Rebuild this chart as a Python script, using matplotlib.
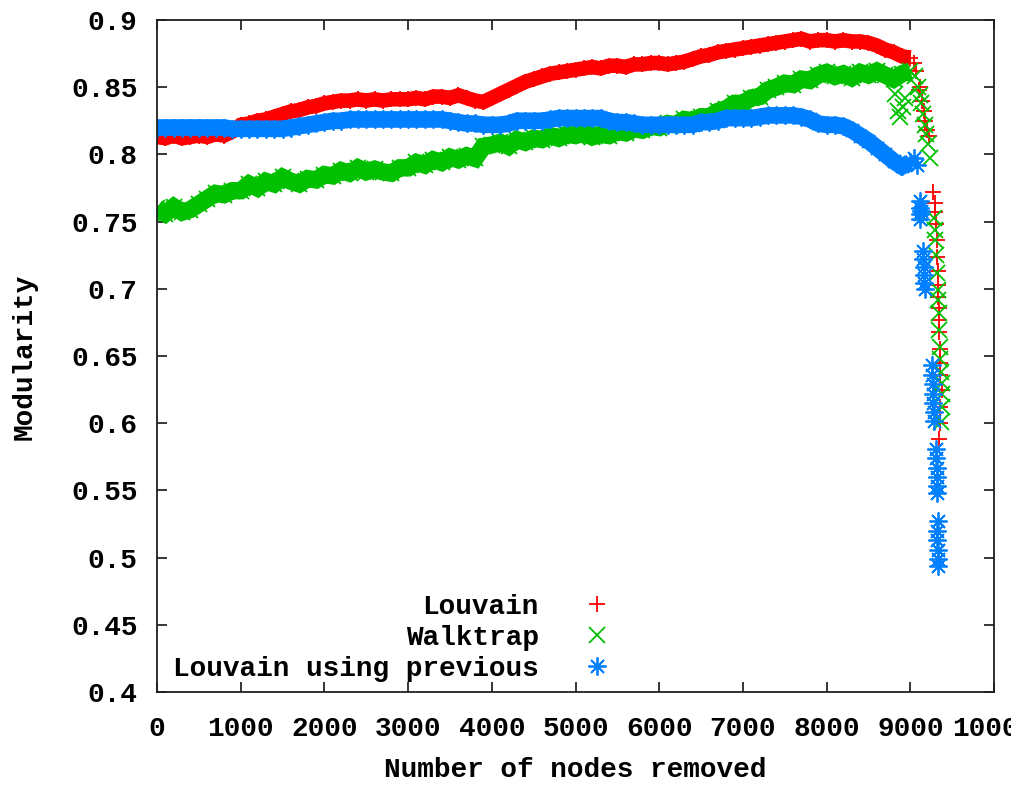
import matplotlib
matplotlib.use("Agg")
import matplotlib.pyplot as plt
from matplotlib.ticker import FormatStrFormatter

# Number of removed nodes for the sampled run (every 100 nodes up to 9000)
nodes_removed = list(range(0, 9001, 100))

louvain = [
    0.813, 0.812, 0.814, 0.812, 0.813, 0.814, 0.813, 0.815, 0.814, 0.817,
    0.822, 0.823, 0.825, 0.826, 0.828, 0.830, 0.832, 0.833, 0.835, 0.836,
    0.838, 0.839, 0.840, 0.840, 0.841, 0.840, 0.841, 0.840, 0.841, 0.841,
    0.841, 0.842, 0.841, 0.843, 0.843, 0.842, 0.844, 0.842, 0.840, 0.839,
    0.842, 0.845, 0.848, 0.851, 0.854, 0.856, 0.858, 0.860, 0.861, 0.862,
    0.863, 0.864, 0.865, 0.864, 0.866, 0.866, 0.865, 0.867, 0.867, 0.868,
    0.868, 0.867, 0.868, 0.869, 0.871, 0.873, 0.874, 0.876, 0.877, 0.878,
    0.879, 0.880, 0.881, 0.882, 0.883, 0.884, 0.885, 0.886, 0.884, 0.885,
    0.885, 0.884, 0.885, 0.884, 0.884, 0.883, 0.881, 0.878, 0.876, 0.873,
    0.872,
]

walktrap = [
    0.760, 0.756, 0.761, 0.757, 0.759, 0.763, 0.767, 0.771, 0.770, 0.773,
    0.773, 0.778, 0.775, 0.780, 0.778, 0.783, 0.780, 0.778, 0.782, 0.781,
    0.785, 0.784, 0.788, 0.786, 0.790, 0.787, 0.789, 0.787, 0.786, 0.790,
    0.790, 0.794, 0.792, 0.796, 0.794, 0.798, 0.796, 0.799, 0.797, 0.806,
    0.807, 0.809, 0.806, 0.811, 0.809, 0.812, 0.811, 0.814, 0.812, 0.815,
    0.814, 0.816, 0.813, 0.815, 0.814, 0.817, 0.816, 0.819, 0.818, 0.821,
    0.820, 0.823, 0.822, 0.826, 0.825, 0.828, 0.828, 0.832, 0.834, 0.838,
    0.838, 0.842, 0.843, 0.848, 0.850, 0.853, 0.852, 0.856, 0.855, 0.859,
    0.861, 0.858, 0.860, 0.857, 0.861, 0.859, 0.862, 0.859, 0.856, 0.860,
    0.862,
]

louvain_prev = [
    0.820, 0.820, 0.820, 0.820, 0.820, 0.820, 0.820, 0.820, 0.820, 0.819,
    0.819, 0.819, 0.819, 0.819, 0.819, 0.819, 0.820, 0.821, 0.822, 0.823,
    0.824, 0.825, 0.825, 0.826, 0.826, 0.826, 0.826, 0.826, 0.826, 0.826,
    0.826, 0.826, 0.826, 0.826, 0.826, 0.825, 0.824, 0.823, 0.823, 0.822,
    0.822, 0.822, 0.823, 0.825, 0.825, 0.825, 0.825, 0.826, 0.827, 0.827,
    0.827, 0.827, 0.827, 0.827, 0.825, 0.824, 0.824, 0.823, 0.822, 0.822,
    0.822, 0.822, 0.822, 0.822, 0.822, 0.824, 0.824, 0.825, 0.827, 0.827,
    0.827, 0.827, 0.828, 0.829, 0.829, 0.829, 0.829, 0.828, 0.826, 0.823,
    0.822, 0.822, 0.821, 0.818, 0.814, 0.810, 0.805, 0.800, 0.795, 0.791,
    0.794,
]

# Final collapse of the network (fine-grained samples)
louvain_tail_x = [9040, 9070, 9100, 9120, 9140, 9160, 9180, 9200, 9220,
                  9270, 9290, 9300, 9310, 9320, 9320, 9330, 9330, 9330,
                  9340, 9340, 9340, 9350, 9350, 9360, 9380, 9350, 9350, 9340]
louvain_tail_y = [0.868, 0.862, 0.848, 0.850, 0.840, 0.832, 0.825, 0.818, 0.814,
                  0.772, 0.764, 0.757, 0.748, 0.736, 0.724, 0.713, 0.703, 0.694,
                  0.686, 0.677, 0.668, 0.655, 0.645, 0.636, 0.625, 0.612, 0.600, 0.588]

walktrap_tail_x = [8820, 8850, 8880, 8910, 8940,
                   9060, 9090, 9110, 9130, 9150, 9170, 9190, 9210, 9230,
                   9280, 9290, 9300, 9310, 9320, 9330, 9330, 9340, 9340, 9350,
                   9360, 9370, 9380, 9380, 9380, 9370]
walktrap_tail_y = [0.845, 0.832, 0.828, 0.835, 0.842,
                   0.858, 0.850, 0.844, 0.838, 0.830, 0.822, 0.815, 0.808, 0.797,
                   0.753, 0.744, 0.736, 0.725, 0.712, 0.699, 0.692, 0.682, 0.669, 0.657,
                   0.648, 0.638, 0.630, 0.622, 0.612, 0.601]

louvain_prev_tail_x = [9050, 9080,
                       9110, 9120, 9120, 9120, 9130,
                       9150, 9150, 9160, 9160, 9160, 9170,
                       9260, 9260, 9270, 9270, 9270, 9280, 9280,
                       9310, 9310, 9320, 9320, 9320, 9320,
                       9330, 9320, 9320, 9330, 9330, 9330]
louvain_prev_tail_y = [0.797, 0.792,
                       0.765, 0.760, 0.756, 0.752, 0.758,
                       0.728, 0.722, 0.716, 0.710, 0.704, 0.700,
                       0.643, 0.636, 0.629, 0.622, 0.615, 0.608, 0.602,
                       0.581, 0.574, 0.567, 0.560, 0.553, 0.548,
                       0.527, 0.520, 0.513, 0.506, 0.499, 0.494]

series_labels = ["Louvain", "Walktrap", "Louvain using previous"]
series_colors = ["#ff0000", "#00c000", "#0080ff"]
series_markers = ["+", "x", (8, 2, 0)]

x_ticks = list(range(0, 10001, 1000))
y_ticks = [0.4, 0.45, 0.5, 0.55, 0.6, 0.65, 0.7, 0.75, 0.8, 0.85, 0.9]

FONT = "Liberation Mono"
FS = 20

fig = plt.figure(figsize=(10.11, 7.85), dpi=100)
ax = fig.add_axes([157 / 1011, 93 / 785, 837 / 1011, 672 / 785])

main_series = [louvain, walktrap, louvain_prev]
tails = [(louvain_tail_x, louvain_tail_y),
         (walktrap_tail_x, walktrap_tail_y),
         (louvain_prev_tail_x, louvain_prev_tail_y)]
band_widths = [10.5, 12.5, 12.0]
marker_sizes = [12, 12, 13]

for vals, (tx, ty), lab, col, mk, bw, ms in zip(main_series, tails, series_labels,
                                                series_colors, series_markers,
                                                band_widths, marker_sizes):
    ax.plot(nodes_removed, vals, color=col, lw=bw, solid_capstyle="butt",
            solid_joinstyle="miter", zorder=2)
    ax.plot(nodes_removed, vals, ls="none", marker=mk, ms=ms, mew=1.3,
            color=col, label=lab, zorder=2)
    ax.plot(tx, ty, ls="none", marker=mk, ms=ms, mew=1.3, color=col, zorder=2)

ax.set_xlim(0, 10000)
ax.set_ylim(0.4, 0.9)
ax.set_xticks(x_ticks)
ax.set_yticks(y_ticks)
ax.yaxis.set_major_formatter(FormatStrFormatter("%g"))

for lbl in ax.get_xticklabels() + ax.get_yticklabels():
    lbl.set_fontfamily(FONT)
    lbl.set_fontweight("bold")
    lbl.set_fontsize(FS)

ax.tick_params(axis="both", which="major", direction="in", length=7.5, width=1.1,
               top=True, right=True, color="black")
ax.tick_params(axis="y", pad=14)
ax.tick_params(axis="x", pad=17)

for sp in ax.spines.values():
    sp.set_linewidth(1.3)
    sp.set_color("#202020")

ax.set_xlabel("Number of nodes removed", fontfamily=FONT, fontweight="bold", fontsize=FS)
ax.set_ylabel("Modularity", fontfamily=FONT, fontweight="bold", fontsize=FS)
ax.xaxis.label.set_va("center")
ax.yaxis.label.set_va("center")
ax.xaxis.set_label_coords(0.4994, -0.116)
ax.yaxis.set_label_coords(-0.1577, 0.4985)

leg = ax.legend(loc="upper right", bbox_to_anchor=(0.5357, 0.1459), frameon=False,
                markerfirst=False, handlelength=0.6, handletextpad=1.8,
                labelspacing=0.18, borderpad=0.0, borderaxespad=0.0,
                prop={"family": FONT, "weight": "bold", "size": FS})

fig.savefig("out.png", dpi=100)
